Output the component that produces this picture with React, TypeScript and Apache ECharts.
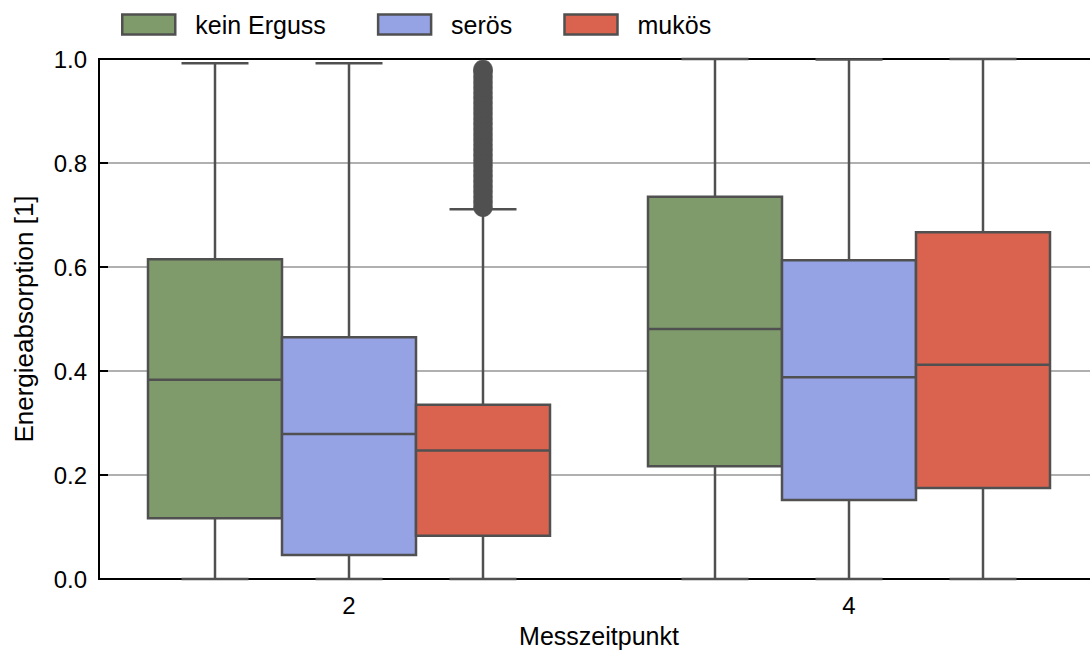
import React, { useEffect, useRef } from "react";
import * as echarts from "echarts";

const categories = ["2", "4"];
const seriesNames = ["kein Erguss", "serös", "mukös"];
const seriesColors = ["#7f9b6b", "#95a2e3", "#d9634f"];
// [categoryIndex, low, q1, median, q3, high]
const keinErguss = [
  [0, 0.0, 0.117, 0.383, 0.615, 0.992],
  [1, 0.0, 0.217, 0.481, 0.735, 1.0],
];
const seroes = [
  [0, 0.0, 0.046, 0.279, 0.465, 0.992],
  [1, 0.0, 0.152, 0.388, 0.613, 0.999],
];
const mukoes = [
  [0, 0.0, 0.083, 0.247, 0.335, 0.711],
  [1, 0.0, 0.175, 0.412, 0.667, 1.0],
];
const mukoesOutliers2 = [
  0.715, 0.725, 0.735, 0.745, 0.755, 0.765, 0.775, 0.785, 0.795, 0.805, 0.815,
  0.825, 0.835, 0.845, 0.855, 0.865, 0.875, 0.885, 0.895, 0.905, 0.915, 0.925,
  0.935, 0.945, 0.955, 0.965, 0.975, 0.98,
];
const yTicks = [0, 0.2, 0.4, 0.6, 0.8, 1.0];

const EDGE = "#505050";
const BOX_FRAC = 0.268;
const FONT = "'Liberation Sans', Arial, sans-serif";

function boxRenderer(offset: number, color: string) {
  return (params: any, api: any) => {
    const cat = api.value(0);
    const band = api.size([1, 0])[0];
    const bw = band * BOX_FRAC;
    const cx = api.coord([cat, 0])[0] + offset * bw;
    const y = (v: number) => api.coord([cat, v])[1];
    const low = y(api.value(1));
    const q1 = y(api.value(2));
    const med = y(api.value(3));
    const q3 = y(api.value(4));
    const high = y(api.value(5));
    const ls = { stroke: EDGE, lineWidth: 2.5 };
    return {
      type: "group",
      children: [
        { type: "line", shape: { x1: cx, y1: low, x2: cx, y2: q1 }, style: ls },
        { type: "line", shape: { x1: cx, y1: q3, x2: cx, y2: high }, style: ls },
        { type: "line", shape: { x1: cx - bw / 4, y1: low, x2: cx + bw / 4, y2: low }, style: ls },
        { type: "line", shape: { x1: cx - bw / 4, y1: high, x2: cx + bw / 4, y2: high }, style: ls },
        {
          type: "rect",
          shape: { x: cx - bw / 2, y: q3, width: bw, height: q1 - q3 },
          style: { fill: color, stroke: EDGE, lineWidth: 2.5 },
        },
        { type: "line", shape: { x1: cx - bw / 2, y1: med, x2: cx + bw / 2, y2: med }, style: ls },
      ],
    };
  };
}

export default function App() {
  const ref = useRef<HTMLDivElement>(null);
  useEffect(() => {
    document.body.style.margin = "0";
    const chart = echarts.init(ref.current!, null, { renderer: "svg" });
    const datasets = [keinErguss, seroes, mukoes];
    const series: any[] = datasets.map((d, i) => ({
      name: seriesNames[i],
      type: "custom",
      coordinateSystem: "cartesian2d",
      renderItem: boxRenderer(i - 1, seriesColors[i]),
      encode: { x: 0, y: [1, 2, 3, 4, 5] },
      itemStyle: { color: seriesColors[i], borderColor: EDGE, borderWidth: 2.5 },
      data: d,
      z: 3,
    }));
    series.push({
      name: "outliers",
      type: "custom",
      coordinateSystem: "cartesian2d",
      renderItem: (params: any, api: any) => {
        const cat = api.value(0);
        const band = api.size([1, 0])[0];
        const bw = band * BOX_FRAC;
        const p = api.coord([cat, api.value(1)]);
        return {
          type: "circle",
          shape: { cx: p[0] + bw, cy: p[1], r: 9.5 },
          style: { fill: EDGE, stroke: EDGE, lineWidth: 0.5 },
        };
      },
      encode: { x: 0, y: 1 },
      data: mukoesOutliers2.map((v) => [0, v]),
      z: 4,
    });
    chart.setOption({
      animation: false,
      textStyle: { fontFamily: FONT },
      legend: {
        left: 121,
        top: 12,
        padding: 0,
        itemWidth: 53,
        itemHeight: 20,
        itemGap: 51,
        icon: "rect",
        data: seriesNames.map((n, i) => ({
          name: n,
          itemStyle: { color: seriesColors[i], borderColor: EDGE, borderWidth: 2.5 },
        })),
        textStyle: { fontSize: 25, color: "#000", fontFamily: FONT, padding: [0, 0, 0, 15] },
      },
      grid: {
        left: 99,
        top: 59,
        width: 1000,
        height: 520,
        outerBoundsMode: "none",
        containLabel: false,
        show: true,
        borderColor: "#000",
        borderWidth: 2,
      },
      xAxis: {
        type: "category",
        data: categories,
        axisLine: { lineStyle: { color: "#000", width: 2 } },
        axisTick: { show: false },
        axisLabel: { fontSize: 24, color: "#000", margin: 14, fontFamily: FONT },
        name: "Messzeitpunkt",
        nameLocation: "middle",
        nameGap: 44,
        nameTextStyle: { fontSize: 25, color: "#000", fontFamily: FONT },
        splitLine: { show: false },
      },
      yAxis: {
        type: "value",
        min: yTicks[0],
        max: yTicks[yTicks.length - 1],
        interval: 0.2,
        axisLine: { show: true, lineStyle: { color: "#000", width: 2 } },
        axisTick: { show: true, inside: true, length: 9, lineStyle: { color: "#000", width: 2 } },
        axisLabel: {
          fontSize: 24,
          color: "#000",
          margin: 12,
          fontFamily: FONT,
          formatter: (v: number) => v.toFixed(1),
        },
        splitLine: { show: true, showMinLine: false, showMaxLine: false, lineStyle: { color: "#b0b0b0", width: 2 } },
        name: "Energieabsorption [1]",
        nameLocation: "middle",
        nameGap: 62,
        nameRotate: 90,
        nameTextStyle: { fontSize: 26, color: "#000", fontFamily: FONT },
      },
      series,
    });
    return () => chart.dispose();
  }, []);
  return <div ref={ref} style={{ width: 1090, height: 653 }} />;
}
